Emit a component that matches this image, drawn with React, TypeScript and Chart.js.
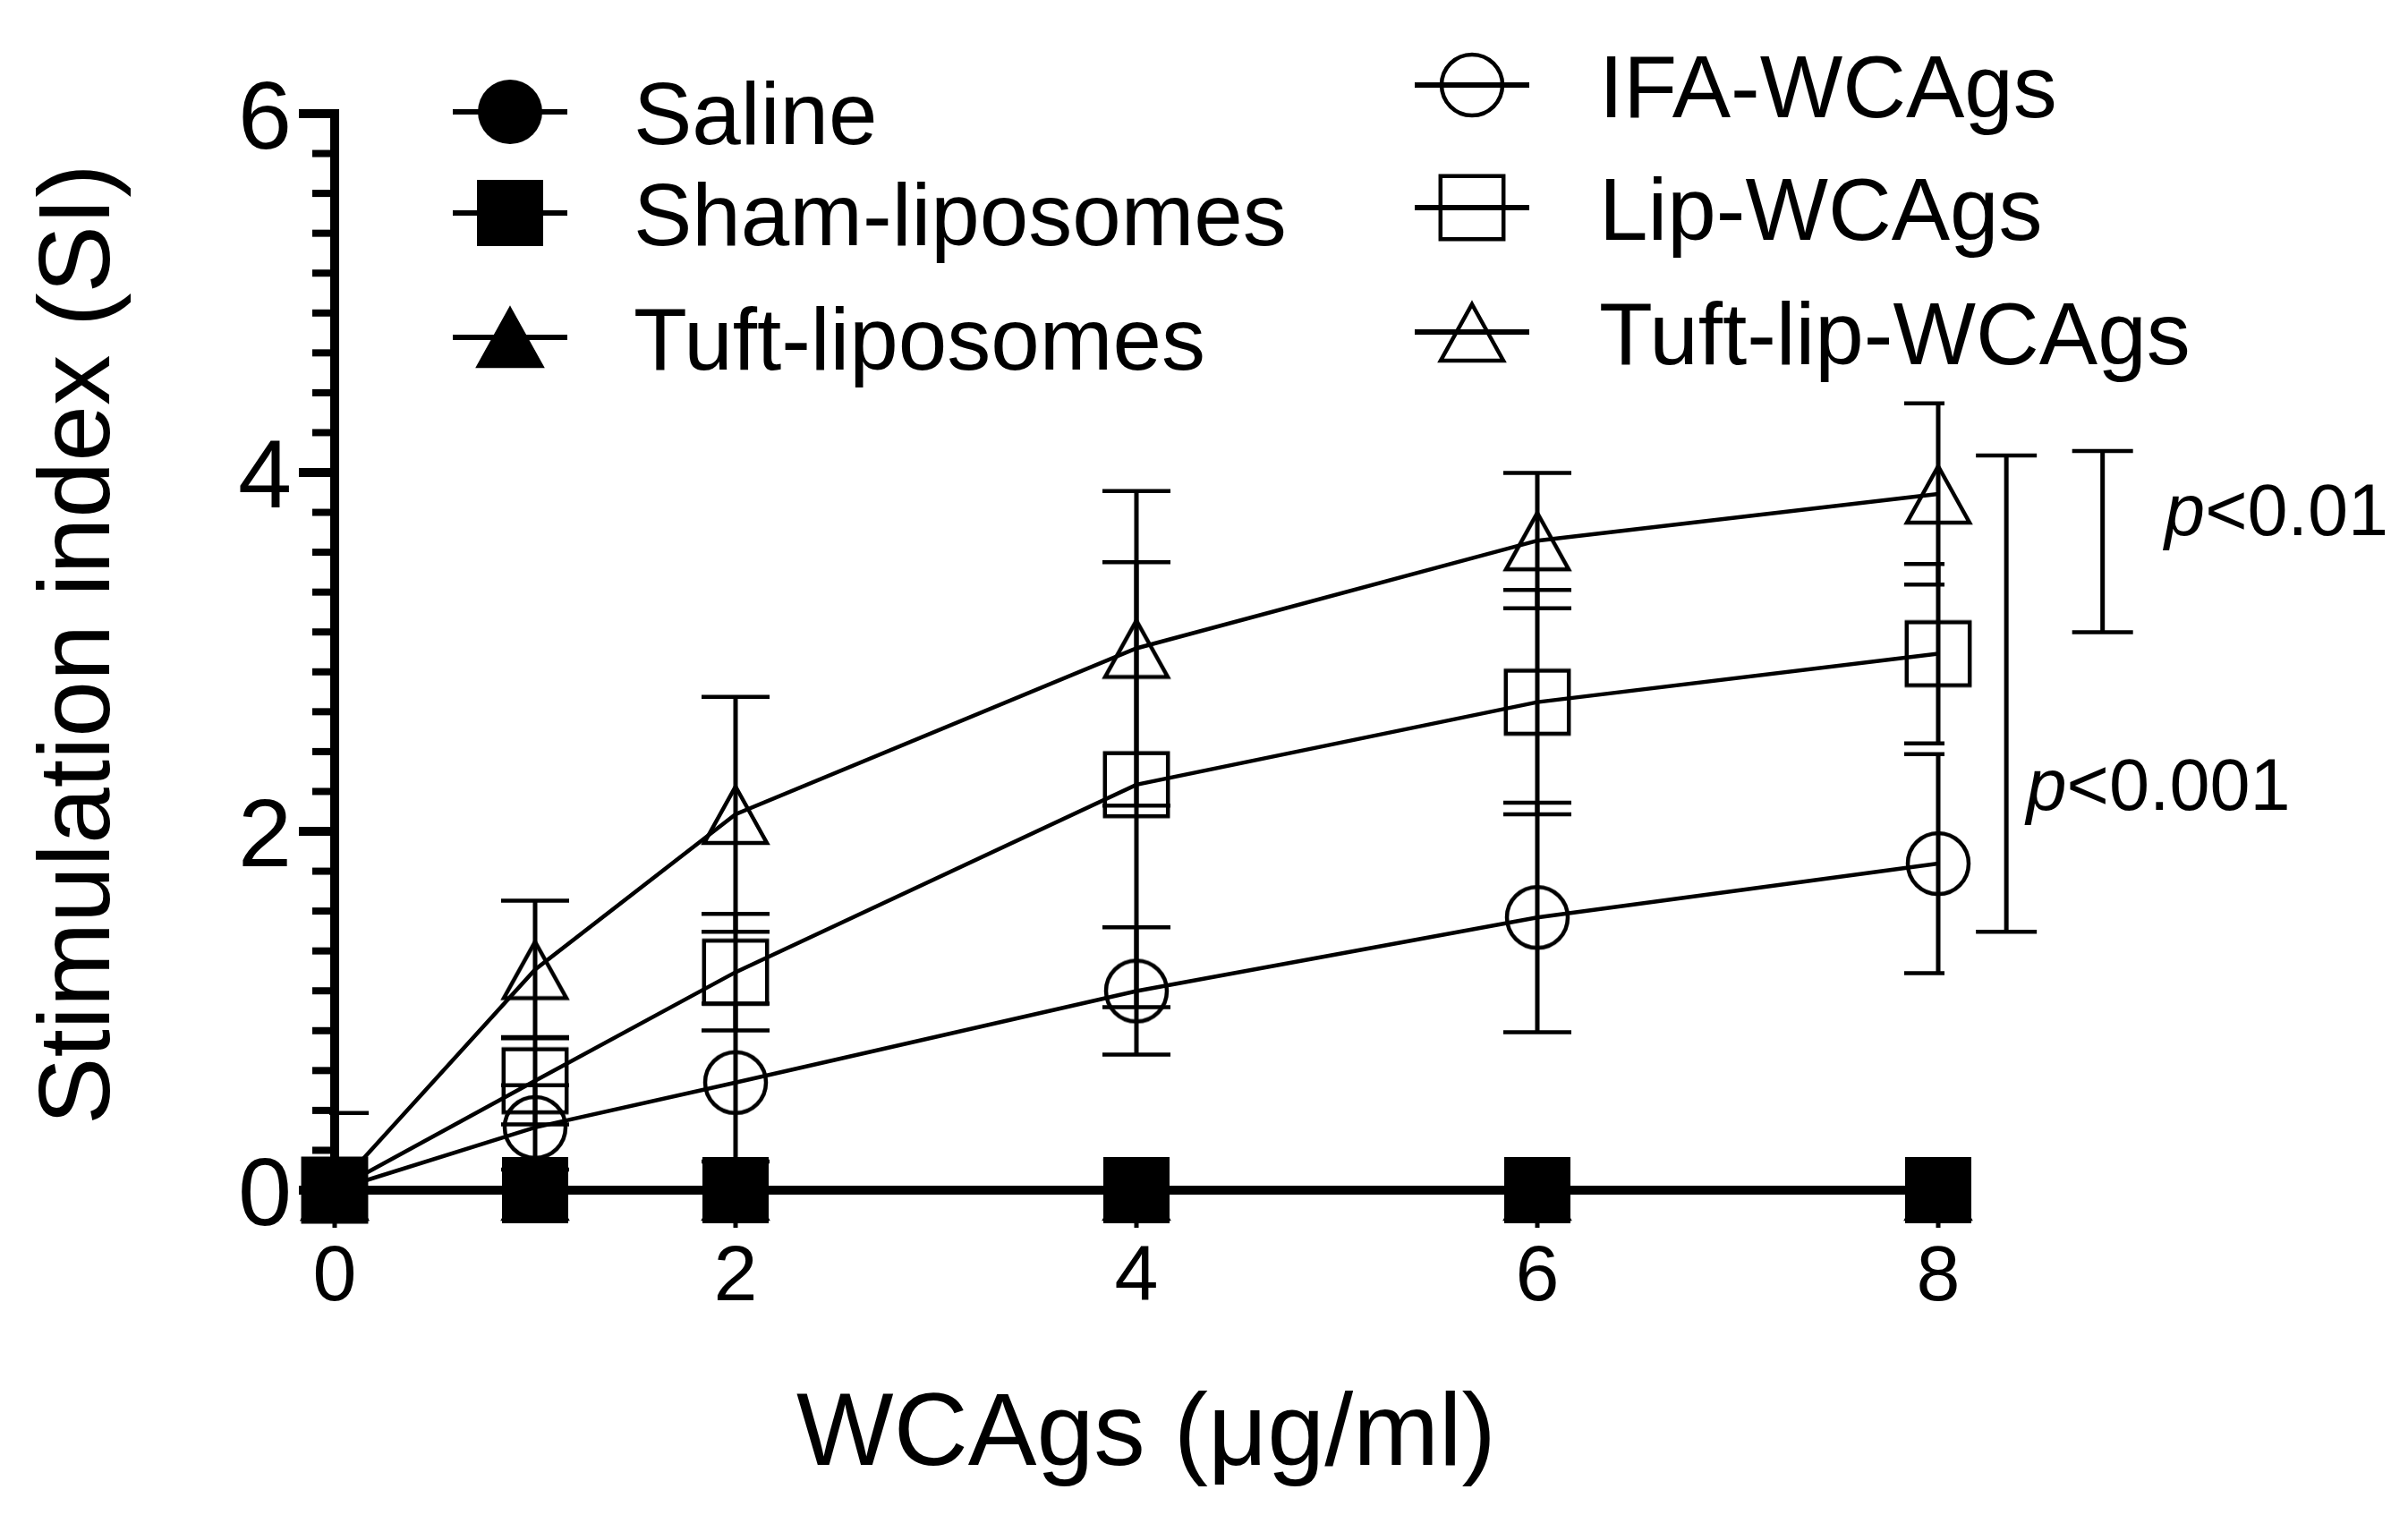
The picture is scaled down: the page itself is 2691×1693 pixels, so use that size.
import React, { useEffect, useRef } from 'react';
import { Chart, registerables } from 'chart.js';

Chart.register(...registerables);

// ---------- data ----------
const doses = [0, 1, 2, 4, 6, 8];

const salineSI = [0, 0, 0, 0, 0, 0];
const salineErr = [0, 0, 0, 0, 0, 0];
const shamSI = [0, 0, 0, 0, 0, 0];
const shamErr = [0, 0, 0, 0, 0, 0];
const tuftLipoSI = [0, 0, 0, 0, 0, 0];
const tuftLipoErr = [0, 0, 0, 0, 0, 0];
const ifaSI = [0, 0.35, 0.6, 1.11, 1.52, 1.82];
const ifaErr = [0, 0.235, 0.44, 0.355, 0.64, 0.61];
const lipSI = [0, 0.61, 1.215, 2.26, 2.72, 2.99];
const lipErr = [0, 0.243, 0.325, 1.24, 0.625, 0.5];
const tuftLipSI = [0, 1.23, 2.095, 3.02, 3.62, 3.88];
const tuftLipErr = [0.43, 0.383, 0.655, 0.876, 0.377, 0.505];

const xTickValues = [0, 2, 4, 6, 8];
const yTickValues = [0, 2, 4, 6];
const yMinorPerMajor = 9;

const seriesLabels = ['Saline', 'Sham-liposomes', 'Tuft-liposomes', 'IFA-WCAgs', 'Lip-WCAgs', 'Tuft-lip-WCAgs'];

// significance brackets (y values, x position in dose units)
const bracketLow = [1.44, 3.11];
const bracketHigh = [4.095, 4.12];
const bracketX = [8.34, 8.82];
const bracketLabel = ['<0.001', '<0.01'];
const bracketLabelX = [8.44, 9.13];
const bracketLabelY = [2.12, 3.65];

const xTitle = 'WCAgs (\u03bcg/ml)';
const yTitle = 'Stimulation index (SI)';

const FONT = '"Liberation Sans", Arial, sans-serif';

type Shape = 'circle' | 'square' | 'triangle';

function makeMarker(shape: Shape, filled: boolean): HTMLCanvasElement {
  const S = 96;
  const c = document.createElement('canvas');
  c.width = S;
  c.height = S;
  const g = c.getContext('2d')!;
  g.translate(S / 2, S / 2);
  g.lineWidth = 4.5;
  g.strokeStyle = '#000';
  g.fillStyle = '#000';
  g.lineJoin = 'miter';
  g.beginPath();
  if (shape === 'circle') {
    g.arc(0, 0, filled ? 36 : 34, 0, Math.PI * 2);
  } else if (shape === 'square') {
    const h = filled ? 37 : 35.2;
    g.rect(-h, -h, 2 * h, 2 * h);
  } else {
    g.moveTo(0, -31);
    g.lineTo(35, 32);
    g.lineTo(-35, 32);
    g.closePath();
  }
  if (filled) g.fill();
  if (!filled || shape === 'triangle') g.stroke();
  return c;
}

export default function App() {
  const ref = useRef<HTMLCanvasElement | null>(null);

  useEffect(() => {
    if (!ref.current) return;
    const markers = [
      makeMarker('circle', true),
      makeMarker('square', true),
      makeMarker('triangle', true),
      makeMarker('circle', false),
      makeMarker('square', false),
      makeMarker('triangle', false),
    ];
    const values = [salineSI, shamSI, tuftLipoSI, ifaSI, lipSI, tuftLipSI];
    const errors = [salineErr, shamErr, tuftLipoErr, ifaErr, lipErr, tuftLipErr];
    const orders = [1, 0, 2, 5, 4, 3];

    const axesPlugin = {
      id: 'customAxes',
      beforeDatasetsDraw(chart: any) {
        const ctx = chart.ctx as CanvasRenderingContext2D;
        const xs = chart.scales.x;
        const ys = chart.scales.y;
        const x0 = xs.getPixelForValue(0);
        const y0 = ys.getPixelForValue(0);
        ctx.save();
        ctx.strokeStyle = '#000';
        ctx.fillStyle = '#000';
        // y axis line
        ctx.lineWidth = 10;
        ctx.beginPath();
        ctx.moveTo(x0, ys.getPixelForValue(6) - 5);
        ctx.lineTo(x0, y0 + 5);
        ctx.stroke();
        // x axis line
        ctx.beginPath();
        ctx.moveTo(x0, y0);
        ctx.lineTo(xs.getPixelForValue(8) + 5, y0);
        ctx.stroke();
        // y minor ticks
        const step = 2 / yMinorPerMajor;
        ctx.lineWidth = 8;
        for (let k = 0; k <= 3 * yMinorPerMajor; k++) {
          if (k % yMinorPerMajor === 0) continue;
          const py = ys.getPixelForValue(k * step);
          ctx.beginPath();
          ctx.moveTo(x0 - 25, py);
          ctx.lineTo(x0, py);
          ctx.stroke();
        }
        // y major ticks + labels
        ctx.lineWidth = 10;
        ctx.font = `108px ${FONT}`;
        ctx.textAlign = 'right';
        ctx.textBaseline = 'alphabetic';
        yTickValues.forEach((v) => {
          const py = ys.getPixelForValue(v);
          ctx.beginPath();
          ctx.moveTo(x0 - 40, py);
          ctx.lineTo(x0, py);
          ctx.stroke();
          ctx.fillText(String(v), x0 - 48, py + 39);
        });
        // x ticks + labels
        ctx.lineWidth = 5;
        ctx.font = `88px ${FONT}`;
        ctx.textAlign = 'center';
        xTickValues.forEach((v) => {
          const px = xs.getPixelForValue(v);
          ctx.beginPath();
          ctx.moveTo(px, y0);
          ctx.lineTo(px, y0 + 42);
          ctx.stroke();
          ctx.fillText(String(v), px, y0 + 123);
        });
        // titles
        ctx.font = `115px ${FONT}`;
        ctx.textAlign = 'center';
        ctx.fillText(xTitle, 1281, 1637);
        ctx.save();
        ctx.translate(122, 720);
        ctx.rotate(-Math.PI / 2);
        ctx.font = `113px ${FONT}`;
        ctx.fillText(yTitle, 0, 0);
        ctx.restore();

        // error bars (clipped to plotting region)
        ctx.save();
        ctx.beginPath();
        ctx.rect(x0 - 6, 0, xs.getPixelForValue(8) + 7 - (x0 - 6), y0);
        ctx.clip();
        errors.forEach((errs, si) => {
          const vals = values[si];
          doses.forEach((d, i) => {
            const e = errs[i];
            if (!e) return;
            const px = xs.getPixelForValue(d);
            const hi = ys.getPixelForValue(vals[i] + e);
            const lo = ys.getPixelForValue(vals[i] - e);
            ctx.lineWidth = 5;
            ctx.beginPath();
            ctx.moveTo(px, hi);
            ctx.lineTo(px, lo);
            ctx.stroke();
            ctx.lineWidth = 4.5;
            [hi, lo].forEach((py) => {
              ctx.beginPath();
              ctx.moveTo(px - 38, py);
              ctx.lineTo(px + 38, py);
              ctx.stroke();
            });
          });
        });
        ctx.restore();
        ctx.restore();
      },
      afterDatasetsDraw(chart: any) {
        const ctx = chart.ctx as CanvasRenderingContext2D;
        const xs = chart.scales.x;
        const ys = chart.scales.y;
        ctx.save();
        ctx.strokeStyle = '#000';
        ctx.fillStyle = '#000';
        // legend
        const legendPos = [
          { sx: 570, tx: 708, y: 125 },
          { sx: 570, tx: 708, y: 238 },
          { sx: 570, tx: 708, y: 377 },
          { sx: 1645, tx: 1787, y: 95 },
          { sx: 1645, tx: 1787, y: 232 },
          { sx: 1645, tx: 1787, y: 371 },
        ];
        ctx.font = `98px ${FONT}`;
        ctx.textAlign = 'left';
        ctx.textBaseline = 'alphabetic';
        seriesLabels.forEach((lab, i) => {
          const p = legendPos[i];
          const m = markers[i];
          ctx.drawImage(m, p.sx - m.width / 2, p.y - m.height / 2);
          ctx.lineWidth = 6;
          ctx.beginPath();
          ctx.moveTo(p.sx - 64, p.y);
          ctx.lineTo(p.sx + 64, p.y);
          ctx.stroke();
          ctx.fillText(lab, p.tx, p.y + 36);
        });
        // significance brackets
        bracketLow.forEach((lo, i) => {
          const px = xs.getPixelForValue(bracketX[i]);
          const pyLo = ys.getPixelForValue(lo);
          const pyHi = ys.getPixelForValue(bracketHigh[i]);
          ctx.lineWidth = 5;
          ctx.beginPath();
          ctx.moveTo(px, pyHi);
          ctx.lineTo(px, pyLo);
          ctx.stroke();
          ctx.lineWidth = 4.5;
          [pyHi, pyLo].forEach((py) => {
            ctx.beginPath();
            ctx.moveTo(px - 34, py);
            ctx.lineTo(px + 34, py);
            ctx.stroke();
          });
          const tx = xs.getPixelForValue(bracketLabelX[i]);
          const ty = ys.getPixelForValue(bracketLabelY[i]);
          ctx.font = `italic 81px ${FONT}`;
          ctx.fillText('p', tx, ty);
          const w = ctx.measureText('p').width;
          ctx.font = `81px ${FONT}`;
          ctx.fillText(bracketLabel[i], tx + w, ty);
        });
        ctx.restore();
      },
    };

    const chart = new Chart(ref.current, {
      type: 'line',
      data: {
        datasets: seriesLabels.map((label, si) => ({
          label,
          data: doses.map((d, i) => ({ x: d, y: values[si][i] })),
          borderColor: '#000',
          borderWidth: 4.5,
          backgroundColor: 'transparent',
          pointStyle: markers[si] as any,
          pointRadius: 36,
          pointHoverRadius: 36,
          pointBorderWidth: 0,
          tension: 0,
          fill: false,
          clip: false as any,
          order: orders[si],
        })),
      },
      options: {
        animation: false,
        responsive: false,
        devicePixelRatio: 1,
        events: [],
        layout: { padding: { left: 374, right: 2691 - 2166, top: 127, bottom: 1693 - 1330 } },
        scales: {
          x: { type: 'linear', min: 0, max: 8, display: false },
          y: { type: 'linear', min: 0, max: 6, display: false },
        },
        plugins: {
          legend: { display: false },
          tooltip: { enabled: false },
        },
      },
      plugins: [axesPlugin as any],
    });
    return () => chart.destroy();
  }, []);

  return (
    <div style={{ position: 'absolute', left: 0, top: 0, width: 2691, height: 1693, background: '#fff' }}>
      <canvas ref={ref} width={2691} height={1693} style={{ display: 'block', width: 2691, height: 1693 }} />
    </div>
  );
}
